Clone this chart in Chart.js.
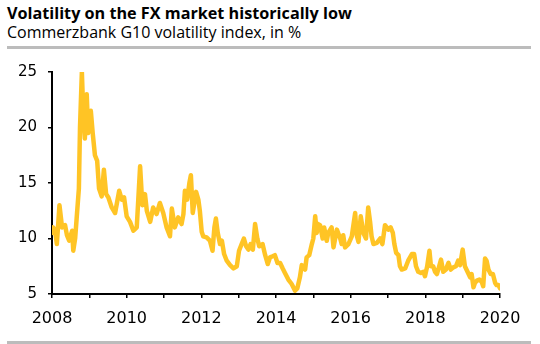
<!DOCTYPE html>
<html>
<head>
<meta charset="utf-8">
<script src="https://cdn.jsdelivr.net/npm/chart.js@4/dist/chart.umd.min.js"></script>
<style>
  html, body { margin: 0; padding: 0; background: #fff; }
  #wrap { position: relative; width: 540px; height: 344px; overflow: hidden; }
  #title { position: absolute; left: 7px; top: 2px; font: 700 16.2px "Open Sans", sans-serif; color: #000; white-space: nowrap; }
  #sub { position: absolute; left: 7px; top: 21px; font: 400 16px "Open Sans", sans-serif; color: #000; white-space: nowrap; }
  .rule { position: absolute; left: 7px; width: 524px; height: 3px; background: #bcbcbc; }
  canvas { position: absolute; left: 0; top: 0; }
</style>
</head>
<body>
<div id="wrap">
  <div id="title">Volatility on the FX market historically low</div>
  <div id="sub">Commerzbank G10 volatility index, in %</div>
  <div class="rule" style="top:46px"></div>
  <div class="rule" style="top:341px"></div>
  <canvas id="volChart" width="540" height="344"></canvas>
</div>
<script>
// Zeitachse (Dezimaljahre) und Indexwerte
const years = [
  2008.00, 2008.03, 2008.08, 2008.13, 2008.20, 2008.27, 2008.35, 2008.40, 2008.46, 2008.54,
  2008.57, 2008.62, 2008.66, 2008.72, 2008.75, 2008.80, 2008.84, 2008.88, 2008.93, 2008.97,
  2009.04, 2009.09, 2009.15, 2009.21, 2009.26, 2009.33, 2009.39, 2009.45, 2009.51, 2009.60,
  2009.69, 2009.80, 2009.87, 2009.93, 2010.00, 2010.09, 2010.18, 2010.27, 2010.36, 2010.42,
  2010.49, 2010.54, 2010.63, 2010.71, 2010.80, 2010.89, 2010.98, 2011.07, 2011.16, 2011.21,
  2011.29, 2011.38, 2011.47, 2011.52, 2011.56, 2011.62, 2011.68, 2011.72, 2011.77, 2011.86,
  2011.92, 2011.96, 2012.01, 2012.05, 2012.14, 2012.23, 2012.30, 2012.35, 2012.39, 2012.44,
  2012.50, 2012.55, 2012.61, 2012.68, 2012.77, 2012.86, 2012.95, 2013.01, 2013.08, 2013.14,
  2013.20, 2013.26, 2013.32, 2013.38, 2013.44, 2013.50, 2013.55, 2013.64, 2013.71, 2013.78,
  2013.84, 2013.91, 2013.97, 2014.04, 2014.11, 2014.18, 2014.24, 2014.33, 2014.42, 2014.51,
  2014.57, 2014.64, 2014.69, 2014.78, 2014.82, 2014.89, 2014.96, 2015.00, 2015.05, 2015.09,
  2015.13, 2015.18, 2015.25, 2015.29, 2015.36, 2015.40, 2015.49, 2015.54, 2015.63, 2015.72,
  2015.76, 2015.80, 2015.85, 2015.94, 2016.03, 2016.12, 2016.16, 2016.21, 2016.27, 2016.34,
  2016.41, 2016.47, 2016.52, 2016.56, 2016.61, 2016.70, 2016.79, 2016.85, 2016.92, 2017.01,
  2017.07, 2017.13, 2017.17, 2017.22, 2017.28, 2017.32, 2017.37, 2017.46, 2017.54, 2017.64,
  2017.70, 2017.75, 2017.81, 2017.88, 2017.95, 2017.99, 2018.05, 2018.11, 2018.15, 2018.21,
  2018.26, 2018.31, 2018.37, 2018.42, 2018.48, 2018.55, 2018.62, 2018.68, 2018.75, 2018.82,
  2018.88, 2018.93, 2019.00, 2019.06, 2019.13, 2019.20, 2019.24, 2019.29, 2019.33, 2019.38,
  2019.45, 2019.51, 2019.55, 2019.60, 2019.64, 2019.69, 2019.75, 2019.81, 2019.87, 2019.91,
  2019.96, 2020.00
];
const volIndex = [
  10.5, 11.0, 10.8, 9.5, 13.0, 11.0, 11.2, 10.3, 9.8, 10.7,
  8.9, 10.0, 11.8, 14.5, 20.0, 25.0, 21.0, 19.0, 23.0, 19.5,
  21.5, 19.5, 17.5, 17.0, 14.5, 13.8, 16.2, 14.0, 13.7, 12.8,
  12.3, 14.3, 13.5, 13.7, 12.0, 11.5, 10.7, 11.0, 16.5, 13.0,
  14.0, 12.5, 11.5, 12.8, 12.2, 13.2, 12.3, 11.0, 10.2, 12.7,
  11.0, 11.9, 11.3, 12.2, 14.3, 13.5, 15.0, 15.7, 12.3, 14.2,
  13.5, 12.5, 10.6, 10.2, 10.1, 9.8, 8.9, 11.0, 11.8, 10.5,
  9.5, 9.8, 8.6, 8.0, 7.6, 7.3, 7.5, 8.9, 9.5, 10.0,
  9.3, 9.0, 9.5, 9.0, 11.3, 10.0, 9.3, 9.5, 8.5, 7.7,
  8.3, 8.4, 8.5, 7.8, 7.8, 7.3, 6.9, 6.3, 5.9, 5.3,
  5.5, 6.5, 7.6, 7.2, 8.3, 8.5, 9.5, 10.0, 12.0, 10.5,
  11.3, 11.2, 10.0, 11.0, 9.8, 10.5, 11.0, 9.2, 10.8, 10.0,
  9.5, 10.3, 9.2, 9.5, 10.2, 12.3, 10.3, 9.7, 12.0, 10.5,
  10.0, 12.8, 11.5, 10.2, 9.5, 9.6, 10.0, 9.5, 11.2, 10.8,
  11.0, 10.5, 9.5, 8.7, 8.5, 7.5, 7.2, 7.3, 8.0, 8.6,
  8.6, 7.5, 7.0, 6.9, 7.0, 6.6, 7.5, 8.9, 7.5, 7.5,
  7.0, 6.8, 7.5, 8.1, 7.0, 7.2, 7.8, 7.2, 7.4, 7.5,
  8.0, 7.6, 9.0, 7.5, 7.0, 6.5, 6.8, 5.6, 6.0, 6.2,
  6.3, 6.1, 5.7, 8.2, 8.0, 7.2, 6.8, 6.8, 6.0, 5.8,
  5.8, 5.5
];
const yTicks = [5, 10, 15, 20, 25];
const xLabelYears = [2008, 2010, 2012, 2014, 2016, 2018, 2020];

const points = years.map((x, i) => ({ x: x, y: volIndex[i] }));

new Chart(document.getElementById('volChart').getContext('2d'), {
    type: 'line',
    data: {
        datasets: [{
            data: points,
            borderColor: '#ffc425',
            borderWidth: 4.5,
            borderJoinStyle: 'round',
            borderCapStyle: 'round',
            pointRadius: 0,
            tension: 0,
            fill: false
        }]
    },
    options: {
        responsive: false,
        animation: false,
        layout: { padding: { top: 72, right: 40, left: 0, bottom: 0 } },
        plugins: { legend: { display: false }, tooltip: { enabled: false } },
        scales: {
            x: {
                type: 'linear',
                min: 2008,
                max: 2020,
                afterFit: s => { s.height = 50; },
                ticks: {
                    stepSize: 1,
                    autoSkip: false,
                    maxRotation: 0,
                    padding: 11,
                    color: '#000',
                    font: { family: 'DejaVu Sans', size: 16 },
                    callback: v => xLabelYears.includes(v) ? String(v) : ''
                },
                grid: { drawOnChartArea: false, drawTicks: true, tickLength: 4, color: '#000', lineWidth: 1.5 },
                border: { color: '#000', width: 2 }
            },
            y: {
                min: 5,
                max: 25,
                afterFit: s => { s.width = 52; },
                afterBuildTicks: s => { s.ticks = yTicks.map(v => ({ value: v })); },
                ticks: {
                    padding: 11,
                    color: '#000',
                    font: { family: 'DejaVu Sans', size: 15 }
                },
                grid: { drawOnChartArea: false, drawTicks: true, tickLength: 4, color: '#000', lineWidth: 1.5 },
                border: { color: '#000', width: 2 }
            }
        }
    }
});
</script>
</body>
</html>
